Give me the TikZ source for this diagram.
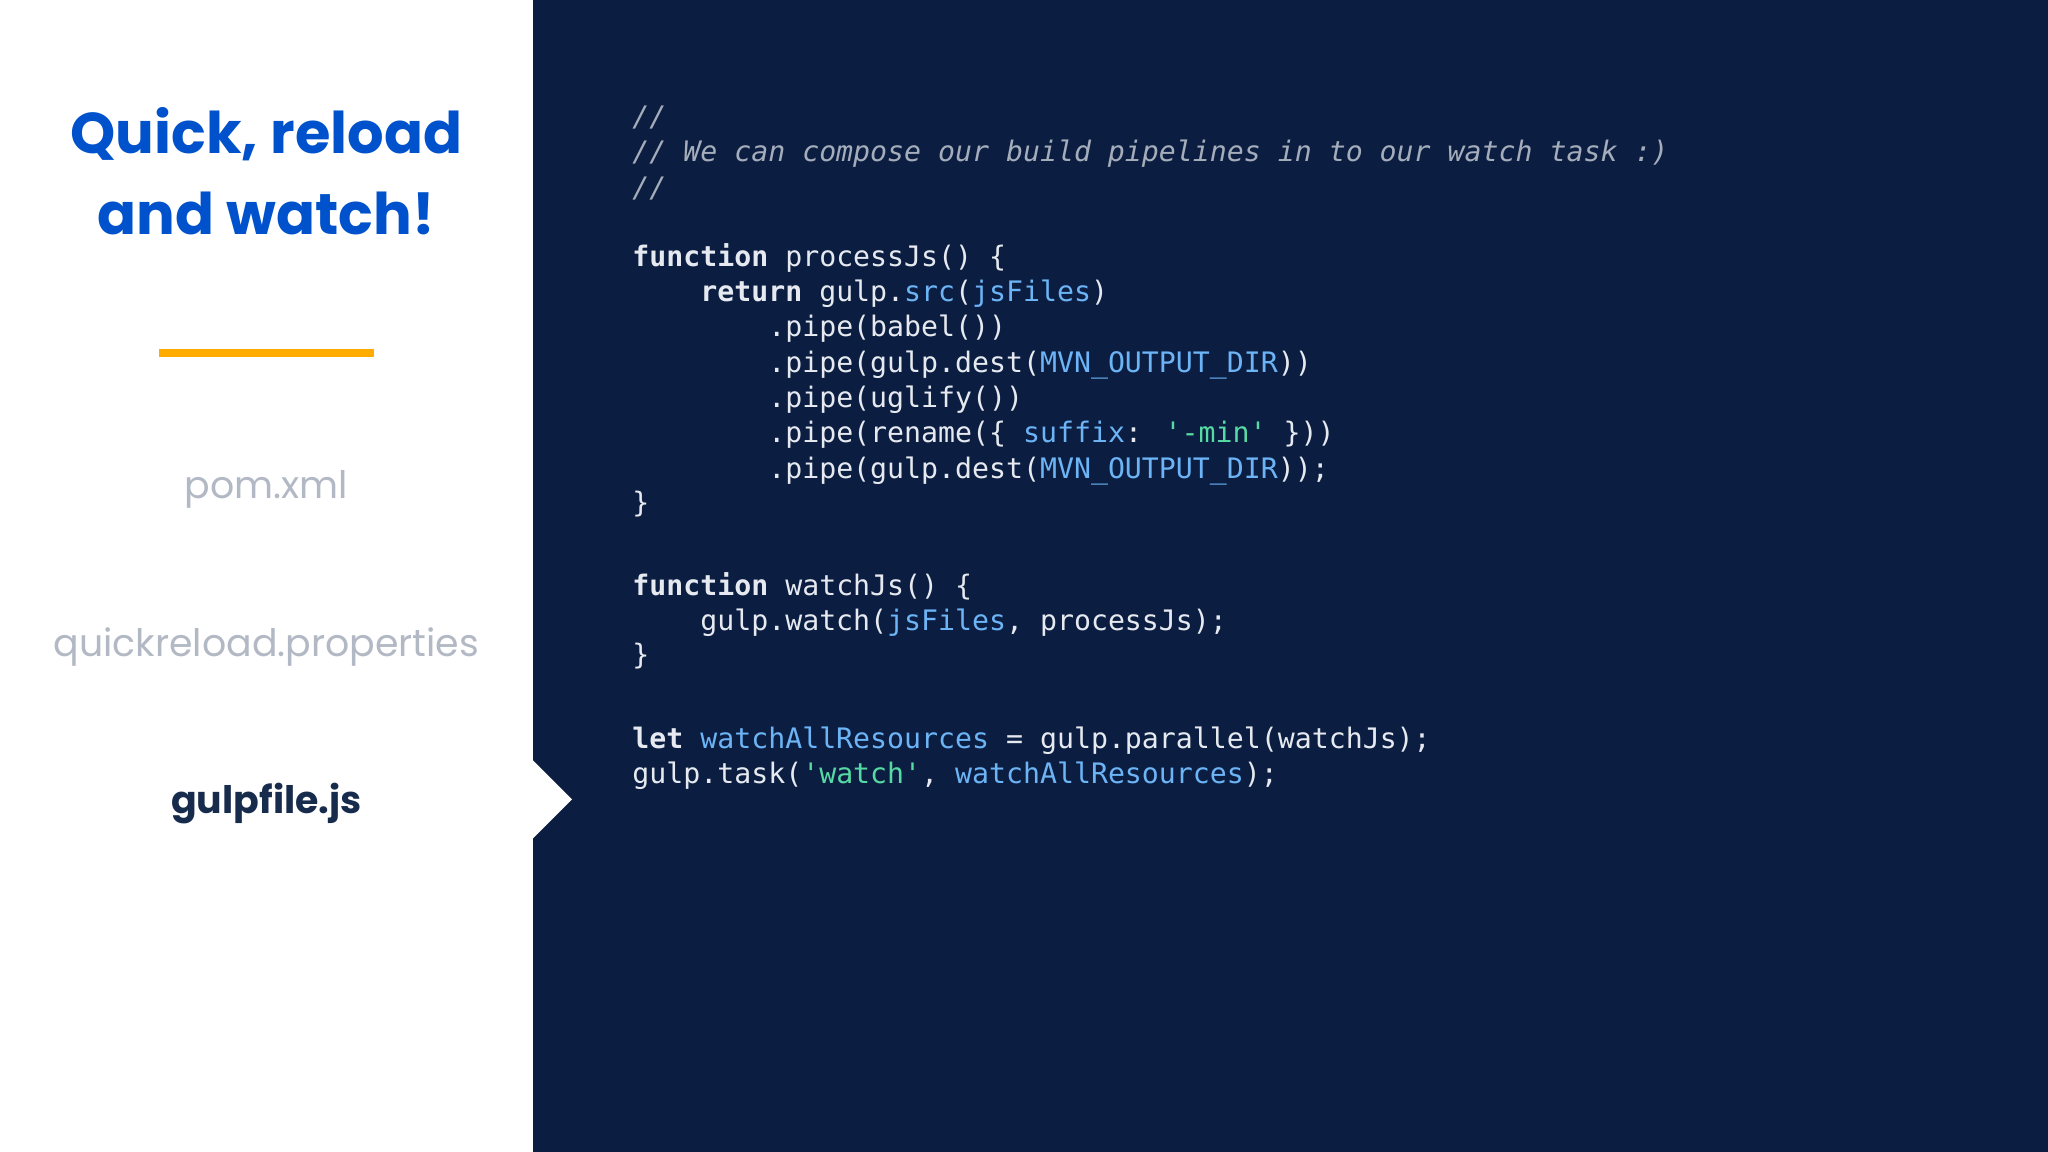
\documentclass[tikz,border=0pt]{standalone}
\usepackage{fontspec}
\setmainfont{Poppins}
\newfontfamily\codefont{DejaVu Sans Mono}
\usetikzlibrary{positioning}
\definecolor{bgdark}{HTML}{0B1E42}
\definecolor{titleblue}{HTML}{0052CC}
\definecolor{accent}{HTML}{FFAB00}
\definecolor{codewhite}{HTML}{E6EAF0}
\definecolor{codeblue}{HTML}{6CB4F5}
\definecolor{codegreen}{HTML}{57D9A3}
\definecolor{codegrey}{HTML}{A5ADBA}
\definecolor{navgrey}{HTML}{B3B9C4}
\definecolor{navdark}{HTML}{172B4D}
\newcommand{\kb}[1]{\textcolor{codeblue}{#1}}
\newcommand{\kg}[1]{\textcolor{codegreen}{#1}}
\newcommand{\kw}[1]{\textbf{#1}}
\tikzset{
  codeline/.style={anchor=base west, inner sep=0, text=codewhite, font=\codefont\fontsize{21.6}{26}\selectfont},
  comment/.style={codeline, text=codegrey, font=\codefont\itshape\fontsize{21.6}{26}\selectfont},
  navitem/.style={inner sep=0, text=navgrey, font=\fontsize{29}{34}\selectfont},
}
\begin{document}
\begin{tikzpicture}[x=1pt,y=-1pt]
\useasboundingbox (0,0) rectangle (1568,882);
\fill[white] (0,0) rectangle (408,882);
\fill[bgdark] (408,0) rectangle (1568,882);
\fill[white] (408,582) -- (438,612) -- (408,642) -- cycle;
\node[inner sep=0, text=titleblue, align=center, font=\bfseries\fontsize{44}{62}\selectfont] (title) at (204,131) {Quick, reload\\and watch!};
\draw[accent, line width=6] (122,270) -- (286,270);
\node[navitem] (pom) at (204,375) {pom.xml};
\node[navitem] (qr) at (204,495) {quickreload.properties};
\node[navitem, text=navdark, font=\bfseries\fontsize{29}{34}\selectfont] (gulp) at (204,615) {gulpfile.js};
\node[comment] (c1) at (484,97) {//};
\node[comment] (c2) at (484,124) {// We can compose our build pipelines in to our watch task :)};
\node[comment] (c3) at (484,151) {//};
\node[codeline] (l1) at (484,204) {\kw{function} processJs() \{};
\node[codeline] (l2) at (484,231) {\ \ \ \ \kw{return} gulp.\kb{src}(\kb{jsFiles})};
\node[codeline] (l3) at (484,258) {\ \ \ \ \ \ \ \ .pipe(babel())};
\node[codeline] (l4) at (484,285) {\ \ \ \ \ \ \ \ .pipe(gulp.dest(\kb{MVN\_OUTPUT\_DIR}))};
\node[codeline] (l5) at (484,312) {\ \ \ \ \ \ \ \ .pipe(uglify())};
\node[codeline] (l6) at (484,339) {\ \ \ \ \ \ \ \ .pipe(rename(\{ \kb{suffix}: \kg{'-min'} \}))};
\node[codeline] (l7) at (484,366) {\ \ \ \ \ \ \ \ .pipe(gulp.dest(\kb{MVN\_OUTPUT\_DIR}));};
\node[codeline] (l8) at (484,392) {\}};
\node[codeline] (l9) at (484,456) {\kw{function} watchJs() \{};
\node[codeline] (l10) at (484,483) {\ \ \ \ gulp.watch(\kb{jsFiles}, processJs);};
\node[codeline] (l11) at (484,509) {\}};
\node[codeline] (l12) at (484,573) {\kw{let} \kb{watchAllResources} = gulp.parallel(watchJs);};
\node[codeline] (l13) at (484,600) {gulp.task(\kg{'watch'}, \kb{watchAllResources});};
\end{tikzpicture}
\end{document}
